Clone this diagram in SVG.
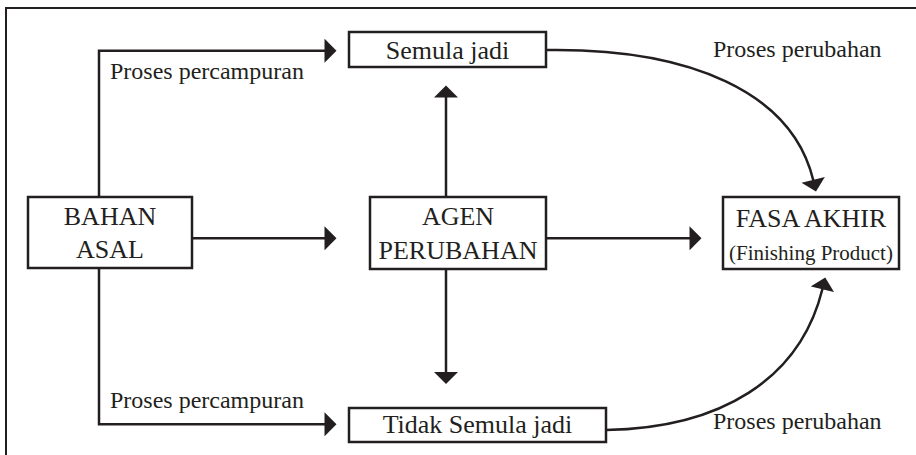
<svg xmlns="http://www.w3.org/2000/svg" width="916" height="455" viewBox="0 0 916 455">
<style>
.box{fill:#fff;stroke:#231f20;stroke-width:2.5}
.ln{fill:none;stroke:#231f20;stroke-width:2.5}
.t{font-family:"Liberation Serif","Times New Roman",serif;fill:#231f20}
.big{font-size:26px}
.lbl{font-size:24px}
.sm{font-size:21px}
</style>
<defs>
<marker id="ah" markerUnits="userSpaceOnUse" markerWidth="13" markerHeight="24" viewBox="0 0 12 24" refX="0.5" refY="12" orient="auto">
<path d="M0,0 L12,12 L0,24 Z" fill="#231f20"/>
</marker>
</defs>
<rect width="916" height="455" fill="#fff"/>
<path d="M6,455 V8 H916" fill="none" stroke="#231f20" stroke-width="2"/>
<g id="connectors">
<path class="ln" d="M99,197 V50.7 H325" marker-end="url(#ah)"/>
<path class="ln" d="M99,268 V424.3 H325" marker-end="url(#ah)"/>
<path class="ln" d="M192,238.3 H325" marker-end="url(#ah)"/>
<path class="ln" d="M546,238.3 H690" marker-end="url(#ah)"/>
<path class="ln" d="M446,197 V97" marker-end="url(#ah)"/>
<path class="ln" d="M446,269 V372.5" marker-end="url(#ah)"/>
<path class="ln" d="M547,50 C690,48 792,92 813.3,180.3" marker-end="url(#ah)"/>
<path class="ln" d="M606,430 C720,428 800,380 822.5,288.7" marker-end="url(#ah)"/>
<text class="t lbl" x="110" y="79">Proses percampuran</text>
<text class="t lbl" x="110" y="408">Proses percampuran</text>
<text class="t lbl" x="713" y="57">Proses perubahan</text>
<text class="t lbl" x="713" y="429">Proses perubahan</text>
</g>
<g id="semula">
<rect class="box" x="349" y="32" width="197" height="35"/>
<text class="t big" x="447.5" y="59" text-anchor="middle">Semula jadi</text>
</g>
<g id="tidak">
<rect class="box" x="349" y="408" width="257" height="34"/>
<text class="t big" x="477.5" y="433" text-anchor="middle">Tidak Semula jadi</text>
</g>
<g id="bahan">
<rect class="box" x="28" y="197" width="164" height="71"/>
<text class="t big" x="110" y="225" text-anchor="middle">BAHAN</text>
<text class="t big" x="110" y="258" text-anchor="middle">ASAL</text>
</g>
<g id="agen">
<rect class="box" x="370" y="197" width="176" height="72"/>
<text class="t big" x="458" y="225" text-anchor="middle">AGEN</text>
<text class="t big" x="458" y="259" text-anchor="middle">PERUBAHAN</text>
</g>
<g id="fasa">
<rect class="box" x="723" y="197" width="176" height="72"/>
<text class="t big" x="811" y="227" text-anchor="middle">FASA AKHIR</text>
<text class="t sm" x="811" y="260" text-anchor="middle">(Finishing Product)</text>
</g>
</svg>
